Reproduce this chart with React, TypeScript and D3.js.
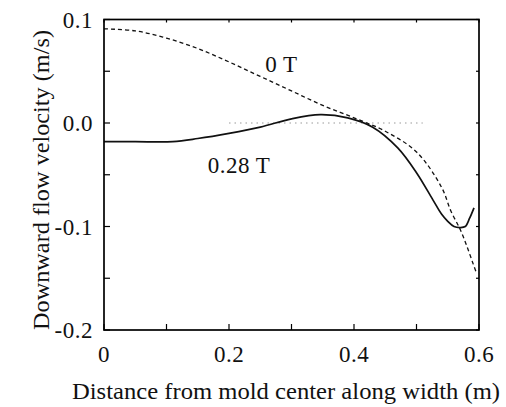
import React from "react";
import * as d3 from "d3";

const xTicks = [0, 0.2, 0.4, 0.6];
const xTickLabels = ["0", "0.2", "0.4", "0.6"];
const yTicks = [0.1, 0.0, -0.1, -0.2];
const yTickLabels = ["0.1", "0.0", "-0.1", "-0.2"];
const xMinor = [0.1, 0.3, 0.5];
const yMinor = [0.05, -0.05, -0.15];

const series0T_x = [0, 0.05, 0.1, 0.15, 0.2, 0.25, 0.3, 0.35, 0.4, 0.45, 0.5, 0.54, 0.555, 0.57, 0.58, 0.59, 0.596];
const series0T_y = [0.091, 0.089, 0.082, 0.072, 0.059, 0.045, 0.031, 0.017, 0.005, -0.008, -0.028, -0.062, -0.085, -0.103, -0.118, -0.135, -0.145];

const series028T_x = [0, 0.05, 0.11, 0.15, 0.2, 0.25, 0.3, 0.346, 0.39, 0.43, 0.47, 0.5, 0.526, 0.54, 0.55, 0.56, 0.57, 0.578, 0.585, 0.592];
const series028T_y = [-0.018, -0.018, -0.018, -0.015, -0.01, -0.004, 0.004, 0.008, 0.005, -0.004, -0.024, -0.048, -0.074, -0.088, -0.095, -0.1, -0.101, -0.1, -0.092, -0.082];

const refLine_x = [0.2, 0.51];
const refLine_y = [0, 0];

const labels = [
  { text: "0 T", x: 0.258, y: 0.049 },
  { text: "0.28 T", x: 0.166, y: -0.048 },
];

export default function App() {
  const W = 506, H = 407;
  const left = 104, right = 479, top = 19.5, bottom = 330;
  const x = d3.scaleLinear().domain([0, 0.6]).range([left, right]);
  const y = d3.scaleLinear().domain([-0.2, 0.1]).range([bottom, top]);
  const line = d3.line<[number, number]>().x(d => x(d[0])).y(d => y(d[1])).curve(d3.curveCatmullRom.alpha(0.5));
  const d0 = line(series0T_x.map((v, i) => [v, series0T_y[i]]) as [number, number][]) || "";
  const d1 = line(series028T_x.map((v, i) => [v, series028T_y[i]]) as [number, number][]) || "";
  const dr = d3.line<[number, number]>().x(d => x(d[0])).y(d => y(d[1]))(refLine_x.map((v, i) => [v, refLine_y[i]]) as [number, number][]) || "";
  const ts = { fontFamily: "'Liberation Serif', 'DejaVu Serif', 'Times New Roman', Times, serif", fontSize: "23px", fill: "#111", letterSpacing: "0.5px" } as React.CSSProperties;
  const tt = { fontFamily: "'Liberation Serif', 'DejaVu Serif', 'Times New Roman', Times, serif", fontSize: "23px", fill: "#111" } as React.CSSProperties;
  const tl = 6;
  return (
    <svg width={W} height={H} style={{ position: "absolute", left: 0, top: 0, background: "#fff" }}>
      <rect x={0} y={0} width={W} height={H} fill="#fff" />
      <path d={dr} stroke="#999" strokeWidth={1} strokeDasharray="1.5,4" fill="none" />
      <path d={d0} stroke="#111" strokeWidth={1.3} strokeDasharray="4,3" fill="none" />
      <path d={d1} stroke="#111" strokeWidth={1.7} fill="none" />
      <rect x={left} y={top} width={right - left} height={bottom - top} fill="none" stroke="#000" strokeWidth={1.7} />
      {yTicks.concat(yMinor).map((t, i) => (
        <g key={"yt" + i}>
          <line x1={left} x2={left + tl} y1={y(t)} y2={y(t)} stroke="#000" strokeWidth={1.2} />
          <line x1={right} x2={right - 3} y1={y(t)} y2={y(t)} stroke="#000" strokeWidth={1.2} />
        </g>
      ))}
      {xTicks.concat(xMinor).map((t, i) => (
        <g key={"xt" + i}>
          <line x1={x(t)} x2={x(t)} y1={bottom} y2={bottom - tl} stroke="#000" strokeWidth={1.2} />
          <line x1={x(t)} x2={x(t)} y1={top} y2={top + 3} stroke="#000" strokeWidth={1.2} />
        </g>
      ))}
      {yTicks.map((t, i) => (
        <text key={"yl" + i} x={left - 11} y={y(t)} dy="0.35em" textAnchor="end" style={ts}>{yTickLabels[i]}</text>
      ))}
      {xTicks.map((t, i) => (
        <text key={"xl" + i} x={x(t)} y={bottom + 32} textAnchor="middle" style={ts}>{xTickLabels[i]}</text>
      ))}
      {labels.map((l, i) => (
        <text key={"lb" + i} x={x(l.x)} y={y(l.y)} style={ts}>{l.text}</text>
      ))}
      <text x={72} y={399} textLength={428} lengthAdjust="spacingAndGlyphs" style={tt}>Distance from mold center along width (m)</text>
      <text transform={`translate(49,330) rotate(-90)`} textLength={300} lengthAdjust="spacingAndGlyphs" style={tt}>Downward flow velocity (m/s)</text>
    </svg>
  );
}
